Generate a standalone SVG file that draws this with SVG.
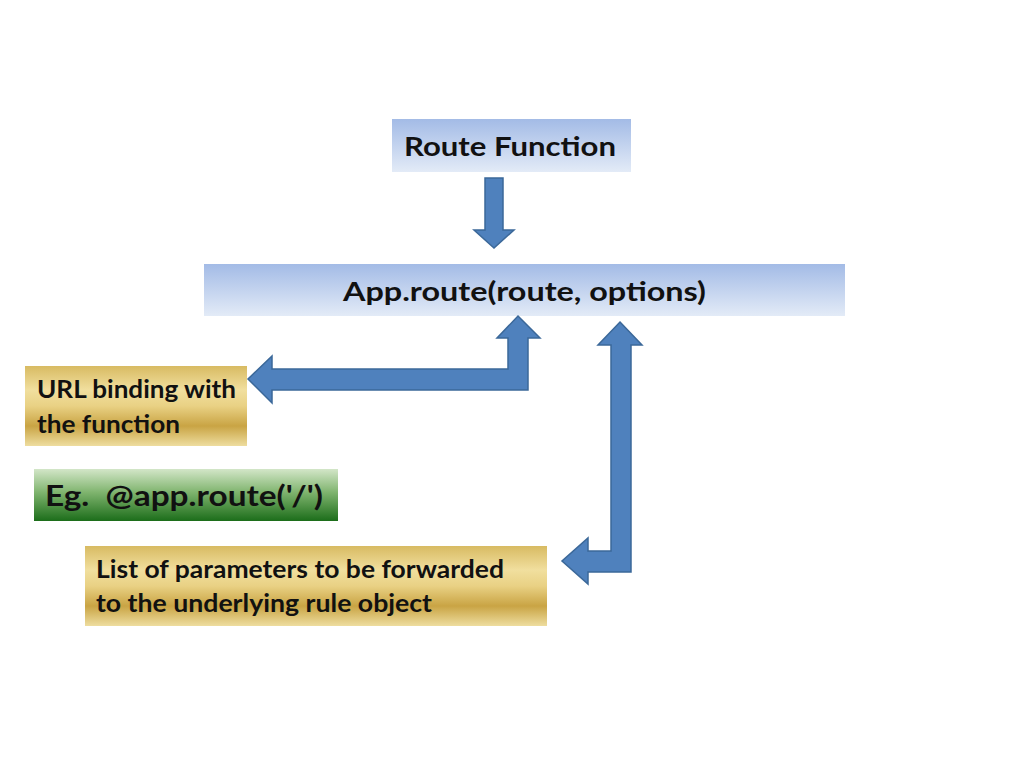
<svg xmlns="http://www.w3.org/2000/svg" width="1024" height="768" viewBox="0 0 1024 768">
<defs>
<linearGradient id="blueG" x1="0" y1="0" x2="0" y2="1">
<stop offset="0" stop-color="#a3bbe6"/>
<stop offset="1" stop-color="#e3ebf7"/>
</linearGradient>
<linearGradient id="goldG" x1="0" y1="0" x2="0" y2="1">
<stop offset="0" stop-color="#d8bb62"/>
<stop offset="0.3" stop-color="#f1df9e"/>
<stop offset="0.5" stop-color="#e9d184"/>
<stop offset="0.75" stop-color="#c9a444"/>
<stop offset="1" stop-color="#eedd9f"/>
</linearGradient>
<linearGradient id="greenG" x1="0" y1="0" x2="0" y2="1">
<stop offset="0" stop-color="#d3e6c8"/>
<stop offset="0.45" stop-color="#7fb46e"/>
<stop offset="1" stop-color="#1c6d1a"/>
</linearGradient>
<style>
.t{font-family:Lato,"Liberation Sans",Arial,sans-serif;font-weight:bold;fill:#111;}
.arrow{fill:#4f81bd;stroke:#3b6899;stroke-width:1.5;stroke-linejoin:miter;}
</style>
</defs>
<rect width="1024" height="768" fill="#ffffff"/>

<g id="route-function">
<rect x="392" y="119" width="239" height="53" fill="url(#blueG)"/>
<text class="t" x="404" y="156" font-size="27" textLength="212" lengthAdjust="spacingAndGlyphs">Route Function</text>
</g>

<g id="app-route">
<rect x="204" y="264" width="641" height="52" fill="url(#blueG)"/>
<text class="t" x="343" y="301" font-size="27" textLength="363" lengthAdjust="spacingAndGlyphs">App.route(route, options)</text>
</g>

<g id="url-binding">
<rect x="25" y="366" width="222" height="80" fill="url(#goldG)"/>
<text class="t" x="37" y="398" font-size="24" textLength="199" lengthAdjust="spacingAndGlyphs">URL binding with</text>
<text class="t" x="37" y="433" font-size="24" textLength="143" lengthAdjust="spacingAndGlyphs">the function</text>
</g>

<g id="example">
<rect x="34" y="469" width="304" height="52" fill="url(#greenG)"/>
<text class="t" x="45" y="506" font-size="28" textLength="278" lengthAdjust="spacingAndGlyphs" xml:space="preserve">Eg.  @app.route('/')</text>
</g>

<g id="parameters">
<rect x="85" y="546" width="462" height="80" fill="url(#goldG)"/>
<text class="t" x="96" y="578" font-size="24" textLength="408" lengthAdjust="spacingAndGlyphs">List of parameters to be forwarded</text>
<text class="t" x="96" y="612" font-size="24" textLength="336" lengthAdjust="spacingAndGlyphs">to the underlying rule object</text>
</g>

<g id="connectors">
<path class="arrow" d="M485,178 L503,178 L503,230 L514,230 L494,248 L474,230 L485,230 Z"/>
<path class="arrow" d="M518,316 L540,338 L528,338 L528,390 L272,390 L272,403 L248,379 L272,356 L272,369 L508,369 L508,338 L497,338 Z"/>
<path class="arrow" d="M620,322 L642,345 L631,345 L631,572 L588,572 L588,584 L562,561 L588,538 L588,551 L611,551 L611,345 L598,345 Z"/>
</g>
</svg>
